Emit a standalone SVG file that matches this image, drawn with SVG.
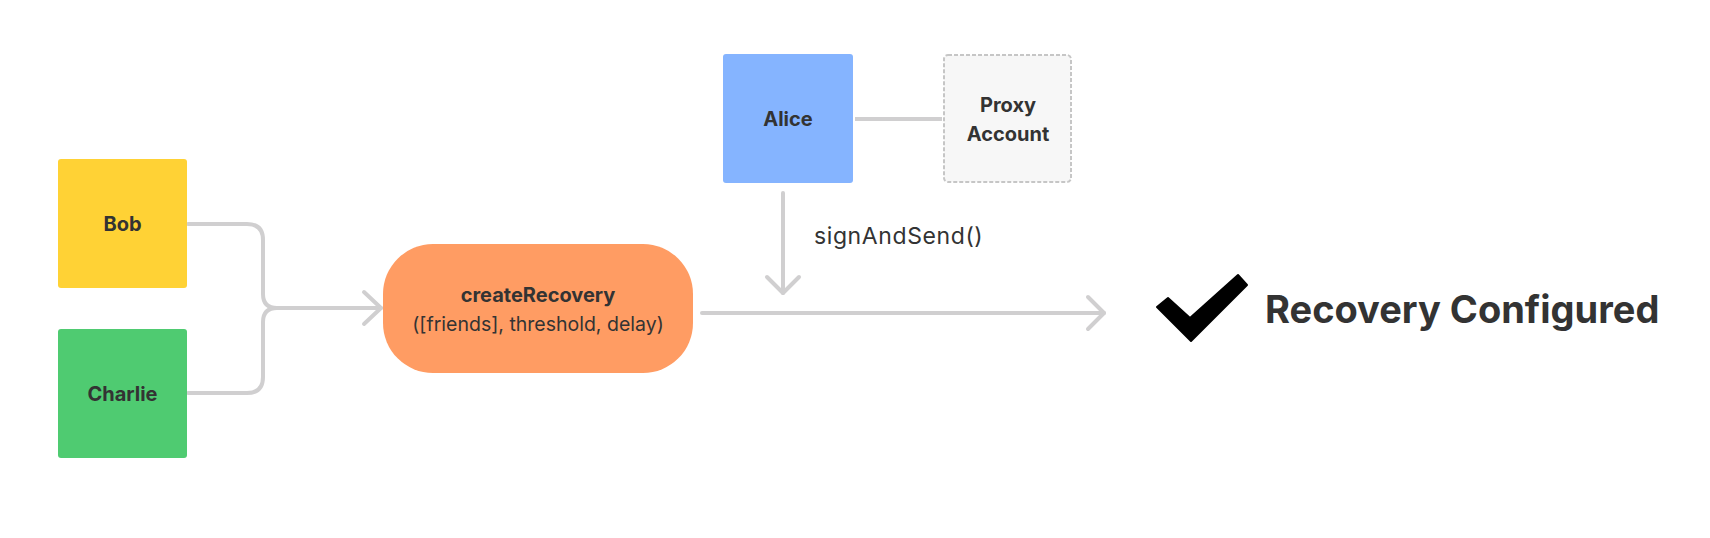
<svg xmlns="http://www.w3.org/2000/svg" width="1710" height="538" viewBox="0 0 1710 538">
  <style>
    .lbl { font-family: Inter, "Noto Sans", "Liberation Sans", sans-serif; font-weight: 700; font-size: 20px; fill: #333333; text-anchor: middle; }
    .reg { font-family: Inter, "Noto Sans", "Liberation Sans", sans-serif; font-weight: 400; font-size: 20px; fill: #333333; }
    .conn { fill: none; stroke: #d0cfd0; stroke-width: 4; stroke-linecap: round; stroke-linejoin: round; }
  </style>
  <rect width="1710" height="538" fill="#ffffff"/>
  <g id="connectors">
    <path class="conn" d="M188 224 H247 Q263 224 263 240 V294 Q263 308 277 308"/>
    <path class="conn" d="M188 393 H247 Q263 393 263 377 V322 Q263 308 277 308 H381"/>
    <path class="conn" d="M364 292 L381 308 L364 324"/>
    <path class="conn" d="M702 313 H1104"/>
    <path class="conn" d="M1088 297 L1104 313 L1088 329"/>
    <path class="conn" d="M783 193 V293"/>
    <path class="conn" d="M767 277 L783 293 L799 277"/>
    <path class="conn" d="M855 119 H942" style="stroke-linecap:butt"/>
    <text class="reg" x="814" y="244" style="font-size:23px; letter-spacing:0.6px">signAndSend()</text>
  </g>
  <g id="bob">
    <rect x="58" y="159" width="129" height="129" rx="3" fill="#FFD235"/>
    <text class="lbl" x="122.5" y="230.5">Bob</text>
  </g>
  <g id="charlie">
    <rect x="58" y="329" width="129" height="129" rx="3" fill="#4FCB71"/>
    <text class="lbl" x="122.5" y="400.5">Charlie</text>
  </g>
  <g id="alice">
    <rect x="723" y="54" width="130" height="129" rx="3" fill="#85B4FF"/>
    <text class="lbl" x="788" y="126">Alice</text>
  </g>
  <g id="proxy">
    <rect x="944" y="55" width="127" height="127" rx="4" fill="#F7F7F7" stroke="#C6C6C6" stroke-width="2" stroke-dasharray="4 2"/>
    <text class="lbl" x="1008" y="112">Proxy</text>
    <text class="lbl" x="1008" y="141">Account</text>
  </g>
  <g id="createRecovery">
    <rect x="383" y="244" width="310" height="129" rx="50" fill="#FF9C63"/>
    <text class="lbl" x="538" y="302">createRecovery</text>
    <text class="reg" x="538" y="331" text-anchor="middle" style="font-size:19.5px">([friends], threshold, delay)</text>
  </g>
  <g id="result">
    <polygon points="1168,298 1190,318 1238,275 1247,285 1191,341 1157,307" fill="#000000" stroke="#000000" stroke-width="2" stroke-linejoin="round"/>
    <text x="1265" y="323" style="font-family: Inter, 'Noto Sans', 'Liberation Sans', sans-serif; font-weight:700; font-size:38px; fill:#333333">Recovery Configured</text>
  </g>
</svg>
